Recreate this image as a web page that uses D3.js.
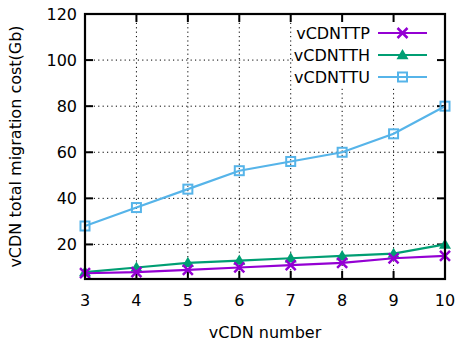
<!DOCTYPE html>
<html><head><meta charset="utf-8">
<script src="https://cdn.jsdelivr.net/npm/d3@7"></script>
<style>body{margin:0;background:#fff}svg{display:block}text{font-family:"DejaVu Sans",sans-serif;fill:#000}</style>
</head><body>
<script>
const categories = [3,4,5,6,7,8,9,10];
const seriesNames = ["vCDNTTP","vCDNTTH","vCDNTTU"];
const vCDNTTP = [7.5,8,9,10,11,12,14,15];
const vCDNTTH = [8,10,12,13,14,15,16,20];
const vCDNTTU = [28,36,44,52,56,60,68,80];
const yTicks = [20,40,60,80,100,120];
const colors = ["#9400d3","#009e73","#56b4e9"];
const markers = ["cross","triangle","square"];

const W=456,H=345, L=85,R=445,T=14,B=279;
const svg=d3.select("body").append("svg").attr("width",W).attr("height",H);
const x=d3.scaleLinear().domain([3,10]).range([L,R]);
const y=d3.scaleLinear().domain([5,120]).range([B,T]);

// grid
const g=svg.append("g");
g.selectAll(".gx").data(categories.slice(1,-1)).join("line")
 .attr("x1",d=>x(d)).attr("x2",d=>x(d)).attr("y1",T).attr("y2",B)
 .attr("stroke","#000").attr("stroke-width",1).attr("stroke-dasharray","1.2,3.2");
g.selectAll(".gy").data(yTicks.slice(0,-1)).join("line")
 .attr("x1",L).attr("x2",R).attr("y1",d=>y(d)).attr("y2",d=>y(d))
 .attr("stroke","#000").attr("stroke-width",1).attr("stroke-dasharray","1.2,3.2");

// legend background (opaque)
svg.append("rect").attr("x",296).attr("y",21).attr("width",146).attr("height",66).attr("fill","#fff");

// ticks (inward, mirrored)
const tk=svg.append("g").attr("stroke","#000").attr("stroke-width",2);
yTicks.slice(0,-1).forEach(v=>{
  tk.append("line").attr("x1",L).attr("x2",L+8).attr("y1",y(v)).attr("y2",y(v));
  tk.append("line").attr("x1",R).attr("x2",R-8).attr("y1",y(v)).attr("y2",y(v));
});
categories.slice(1,-1).forEach(v=>{
  tk.append("line").attr("x1",x(v)).attr("x2",x(v)).attr("y1",B).attr("y2",B-8);
  tk.append("line").attr("x1",x(v)).attr("x2",x(v)).attr("y1",T).attr("y2",T+8);
});

// tick labels
svg.selectAll(".yl").data(yTicks).join("text").attr("x",L-8).attr("y",d=>y(d)).attr("dy","0.35em")
 .attr("text-anchor","end").attr("font-size",16).text(d=>d);
svg.selectAll(".xl").data(categories).join("text").attr("x",d=>x(d)).attr("y",306)
 .attr("text-anchor","middle").attr("font-size",16).text(d=>d);

// axis titles
svg.append("text").attr("x",(L+R)/2).attr("y",338).attr("text-anchor","middle").attr("font-size",16).text("vCDN number");
svg.append("text").attr("transform",`translate(21,${(T+B)/2}) rotate(-90)`).attr("text-anchor","middle").attr("font-size",16).text("vCDN total migration cost(Gb)");

function drawMarker(sel,type,color,cx,cy){
  if(type==="cross"){
    const s=5;
    sel.append("path").attr("d",`M${cx-s},${cy-s}L${cx+s},${cy+s}M${cx-s},${cy+s}L${cx+s},${cy-s}`)
      .attr("stroke",color).attr("stroke-width",2.5).attr("fill","none");
  } else if(type==="triangle"){
    const s=6;
    sel.append("path").attr("d",`M${cx},${cy-s}L${cx+s},${cy+s*0.7}L${cx-s},${cy+s*0.7}Z`).attr("fill",color);
  } else {
    const s=4.5;
    sel.append("rect").attr("x",cx-s).attr("y",cy-s).attr("width",2*s).attr("height",2*s)
      .attr("fill","none").attr("stroke",color).attr("stroke-width",2);
  }
}

const data=[vCDNTTP,vCDNTTH,vCDNTTU];
const line=d3.line().x((d,i)=>x(categories[i])).y(d=>y(d));
const plot=svg.append("g");
[2,1,0].forEach(k=>{
  plot.append("path").datum(data[k]).attr("d",line).attr("fill","none").attr("stroke",colors[k]).attr("stroke-width",2.2);
  data[k].forEach((v,i)=>drawMarker(plot,markers[k],colors[k],x(categories[i]),y(v)));
});

// legend
const ly=[33,55,77];
seriesNames.forEach((n,k)=>{
  svg.append("text").attr("x",370).attr("y",ly[k]).attr("dy","0.35em").attr("text-anchor","end").attr("font-size",16).text(n);
  svg.append("line").attr("x1",378).attr("x2",427).attr("y1",ly[k]).attr("y2",ly[k]).attr("stroke",colors[k]).attr("stroke-width",2.2);
  drawMarker(svg,markers[k],colors[k],402.5,ly[k]);
});

// frame
svg.append("rect").attr("x",L).attr("y",T).attr("width",R-L).attr("height",B-T).attr("fill","none").attr("stroke","#000").attr("stroke-width",2.2);
</script>
</body></html>
